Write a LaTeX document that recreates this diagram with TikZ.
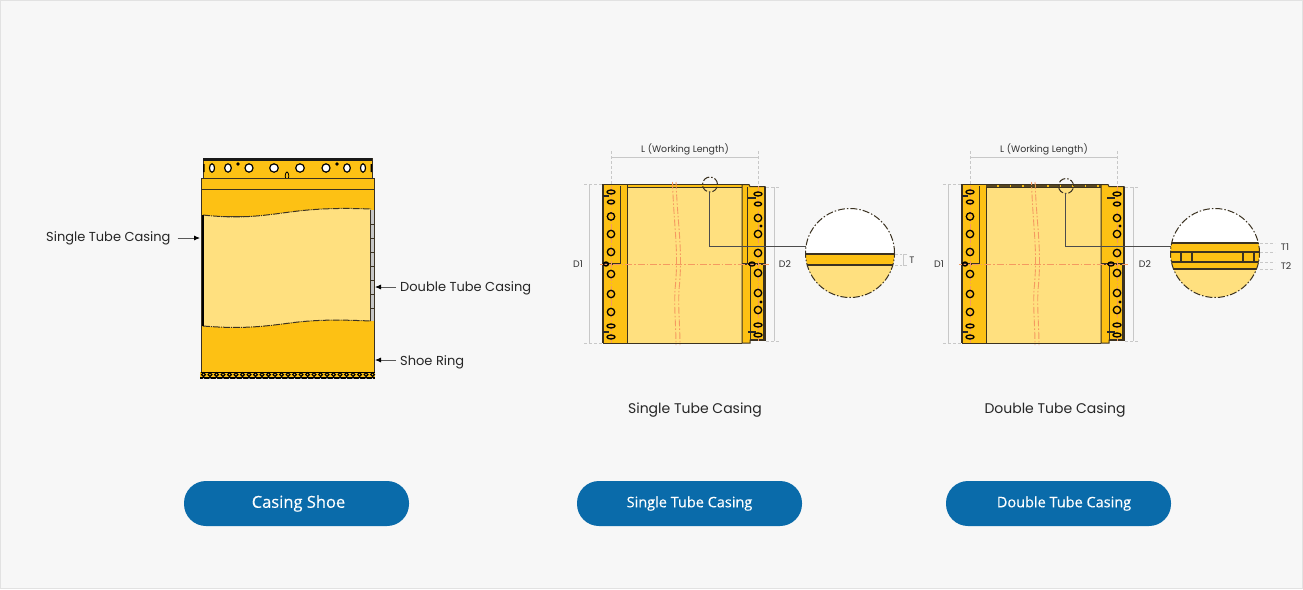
\documentclass[tikz,border=0pt]{standalone}
\usepackage{fontspec}
\setmainfont{Poppins}
\newfontfamily\btnfont[FakeBold=0.25]{Open Sans}
\usetikzlibrary{calc}
\usetikzlibrary{positioning}
\usetikzlibrary{arrows.meta}
\definecolor{pagebg}{HTML}{F7F7F7}
\definecolor{pageedge}{HTML}{E2E2E2}
\definecolor{shoedark}{HTML}{FDC114}
\definecolor{shoelight}{HTML}{FFE07F}
\definecolor{edgeline}{HTML}{3B3221}
\definecolor{btnblue}{HTML}{0A6BAA}
\definecolor{centre}{HTML}{F59A60}
\definecolor{dimline}{HTML}{C8C8C8}
\tikzset{
  lbl/.style={font=\fontsize{13}{15}\selectfont,text=black!85,inner sep=0pt},
  dimlbl/.style={font=\fontsize{9.4}{11}\selectfont,text=black!80,inner sep=0pt},
  btn/.style={rounded corners=22pt,fill=btnblue,text=white,minimum width=225pt,minimum height=45pt,inner sep=0pt,font=\btnfont\fontsize{16.5}{18}\selectfont},
  body/.style={draw=edgeline,line width=1pt},
  centreline/.style={draw=centre,line width=.9pt,dash pattern=on 7pt off 2pt on 1.5pt off 2pt},
  dimthin/.style={draw=dimline,line width=.8pt},
  dimdash/.style={draw=dimline,line width=.8pt,dash pattern=on 3pt off 2pt},
  callout/.style={draw=edgeline,line width=1pt,dash pattern=on 7pt off 2pt on 1.5pt off 2pt},
  leader/.style={draw=black!70,line width=.9pt},
  pointer/.style={draw=black!65,line width=.8pt,-{Latex[length=6pt,width=5pt,black]}},
}
\newcommand{\hole}[2]{\draw[black,line width=1.3pt] (#1,#2) circle (3.7pt);}
\newcommand{\flathole}[3]{\draw[black,line width=1.3pt] (#1,#2) ellipse (#3pt and 2pt);}
\newcommand{\lug}[3]{\fill[black!85] (#1,#2) rectangle ++(#3,2);}
% one casing drawing, shifted by the argument
\newcommand{\casingview}[1]{
\begin{scope}[xshift=#1pt]
\fill[shoelight] (627,186) rectangle (742,343);
\filldraw[body,fill=shoedark] (627,184) rectangle (742,187);
\filldraw[body,fill=shoedark] (603,184) -- (627,184) -- (627,343) -- (603,343) -- cycle;
\filldraw[body,fill=shoedark] (742,343) -- (742,184.5) -- (749,184.5) -- (750,186.5) -- (765,186.5) -- (765,340) -- (750,340) -- (750,343) -- cycle;
\draw[edgeline,line width=1pt] (627,343) -- (742,343);
\draw[edgeline,line width=1.6pt] (603,184) -- (603,343) (765,186.5) -- (765,340) -- (750,340);
\draw[body] (620,186) -- (620,264) (750,264) -- (750,340) (763,264) -- (763,340);
\draw[edgeline,line width=1.3pt] (603,264) -- (620,264) (742,264) -- (765,264);
% centre lines of the strips
\draw[centreline] (600,264) -- (769,264);
\draw[centreline] (611,186) -- (611,343) (758,186) -- (758,341);
% left holes
\foreach \yy in {216.5,234,252,274,294,312} {\hole{611}{\yy}}
\flathole{611}{192}{4} \flathole{611}{202}{3.6} \flathole{611}{326}{4} \flathole{611}{337}{4}
% right holes
\foreach \yy in {218,234,253,273,293,310} {\hole{758}{\yy}}
\flathole{758}{194}{4} \flathole{758}{204}{3.6} \flathole{758}{325}{4} \flathole{758}{335}{4}
\fill[black] (761,226) circle (1.7pt) (761,302) circle (1.7pt);
\flathole{606}{264}{2.5} \flathole{752}{264}{3}
\lug{603}{195}{6} \lug{603}{331}{6} \lug{748}{197}{8} \lug{748}{331}{8}
% break lines
\draw[centreline] (672.5,182) .. controls (674,230) and (679,250) .. (675,290) .. controls (674,310) and (676,325) .. (676,345);
\draw[centreline] (676,182) .. controls (678,230) and (683,250) .. (679,290) .. controls (678,310) and (680,325) .. (680,345);
\end{scope}}
\begin{document}
\begin{tikzpicture}[x=1pt,y=-1pt]
\useasboundingbox (0,0) rectangle (1303,589);
\filldraw[fill=pagebg,draw=pageedge,line width=1pt] (.5,.5) rectangle (1302.5,588.5);
% casing shoe: top band and collar
\filldraw[body,fill=shoedark] (203,158) rectangle (372,178);
\fill[black!90] (203,158) rectangle (372,161);
\foreach \xx/\rr in {212/2.5,228/3.3,249/4,274/4.3,300/4.3,326/4,347/3.3,363/2.5} {\filldraw[fill=white,draw=black,line width=1.2pt] (\xx,168) ellipse (\rr pt and 4.2pt);}
\fill[black] (203,164) rectangle (204.5,172) (370.5,164) rectangle (372,172);
\fill[black] (238,164) circle (1.8pt) (337,164) circle (1.8pt);
\filldraw[fill=shoedark,draw=black,line width=.8pt] (287,176) ellipse (1.8pt and 4pt);
\filldraw[body,fill=shoedark] (201,178) rectangle (374,189);
% casing shoe: tube and shoe ring
\filldraw[body,fill=shoedark] (201,189) rectangle (374,216);
\fill[shoelight] (203,215) .. controls (240,219) and (260,216) .. (290,212) .. controls (320,208) and (345,208) .. (371,209) -- (371,322) .. controls (345,320) and (320,319) .. (290,323) .. controls (260,327) and (240,329) .. (203,326) -- cycle;
\fill[shoedark] (201,326) .. controls (240,329) and (260,327) .. (290,323) .. controls (320,319) and (345,320) .. (374,321) -- (374,372) -- (201,372) -- cycle;
\draw[edgeline,line width=1pt,dash pattern=on 7pt off 1pt on 1pt off 1pt] (203,215) .. controls (240,219) and (260,216) .. (290,212) .. controls (320,208) and (345,208) .. (371,209);
\draw[edgeline,line width=1pt,dash pattern=on 7pt off 1pt on 1pt off 1pt] (203,326) .. controls (240,329) and (260,327) .. (290,323) .. controls (320,319) and (345,320) .. (371,321);
\fill[black] (201,215) rectangle (204,326);
\draw[edgeline,line width=1pt] (201,189) -- (201,372) (374,189) -- (374,372);
\fill[black!22] (370.5,210) rectangle (374,321);
\draw[edgeline,line width=.9pt] (370.5,210) -- (370.5,321) (374,210) -- (374,321);
\foreach \yy in {224,238,252,266,280,294,308} {\draw[edgeline,line width=.8pt] (370.5,\yy) -- (374,\yy);}
% teeth of the shoe ring
\fill[shoedark] (200,372) rectangle (375,378);
\foreach \xx in {0,...,26} {\draw[black,line width=1.2pt] ({203.5+6.5*\xx},374.5) circle (1.9pt);}
\fill[black] (200,377) rectangle (375,379);
\foreach \xx in {0,...,26} {\fill[pagebg] ({203.5+6.5*\xx},378) -- ++(1.3,1.5) -- ++(-2.6,0) -- cycle;}
\draw[black,line width=1pt] (200.5,372) -- (374.5,372);
% labels of the casing shoe
\node[lbl,anchor=west] (singlelbl) at (46,238) {Single Tube Casing};
\node[lbl,anchor=west] (doublelbl) at (400,288) {Double Tube Casing};
\node[lbl,anchor=west] (ringlbl) at (400,362) {Shoe Ring};
\coordinate (singletip) at (200,238);
\coordinate (doubletip) at (375,287);
\coordinate (ringtip) at (375,360);
\draw[pointer] ($(singlelbl.east)+(7,0)$) -- (singletip);
\draw[pointer] ($(doublelbl.west)+(-4,-1)$) -- (doubletip);
\draw[pointer] ($(ringlbl.west)+(-4,-2)$) -- (ringtip);
% single tube casing
\casingview{0}
\draw[edgeline,line width=1pt] (747,187) -- (747,264);
\draw[callout] (710,184.5) circle (7.5pt);
\draw[dimdash] (611,151) -- (611,184) (758,151) -- (758,186);
\node[dimlbl] (lenA) at (685,149) {L (Working Length)};
\coordinate (lenAa) at (611,157.5);
\coordinate (lenAb) at (758,157.5);
\draw[dimthin] (lenAa) -- (lenAb);
\draw[dimdash] (584,184) -- (603,184) (584,343) -- (603,343) (766,187) -- (780,187) (766,341) -- (780,341);
\draw[dimthin] (589.5,184) -- (589.5,343) (774,187) -- (774,341);
\node[dimlbl] (daA) at (578,264) {D1};
\node[dimlbl] (dbA) at (785,264) {D2};
% detail of the wall
\begin{scope}
\clip (850,253) circle (44.5pt);
\fill[white] (805,208) rectangle (895,254);
\fill[shoelight] (805,265) rectangle (895,298);
\filldraw[draw=edgeline,line width=1.2pt,fill=shoedark] (800,254) rectangle (900,265);
\end{scope}
\coordinate (bendA) at (709,246);
\coordinate (detailA) at (805.5,246);
\draw[leader] (709,192) -- (bendA) -- (detailA);
\draw[callout] (850,253) circle (44.5pt);
\draw[dimdash] (895,254) -- (902,254) (895,265) -- (902,265);
\draw[dimthin] (907,254) -- (903,254) -- (903,265) -- (907,265);
\node[dimlbl] (thA) at (912,260) {T};
% double tube casing
\casingview{359}
\draw[edgeline!85!shoedark,line width=2pt,dash pattern=on 11pt off 1.5pt] (986,186) -- (1101,186);
\draw[callout] (1066,186) circle (7.5pt);
\draw[dimdash] (970,151) -- (970,184) (1117,151) -- (1117,186);
\node[dimlbl] (lenB) at (1044,149) {L (Working Length)};
\coordinate (lenBa) at (970,157.5);
\coordinate (lenBb) at (1117,157.5);
\draw[dimthin] (lenBa) -- (lenBb);
\draw[dimdash] (943,184) -- (962,184) (943,343) -- (962,343) (1125,187) -- (1139,187) (1125,341) -- (1139,341);
\draw[dimthin] (948.5,184) -- (948.5,343) (1133,187) -- (1133,341);
\node[dimlbl] (daB) at (939,264) {D1};
\node[dimlbl] (dbB) at (1145,264) {D2};
% detail of the double wall
\begin{scope}
\clip (1215,253) circle (44.5pt);
\fill[white] (1170,208) rectangle (1260,243);
\fill[shoelight] (1170,269) rectangle (1260,298);
\filldraw[draw=edgeline,line width=1.2pt,fill=shoedark] (1165,243) rectangle (1265,252);
\filldraw[draw=edgeline,line width=1.2pt,fill=shoedark] (1165,252) rectangle (1265,262);
\filldraw[draw=edgeline,line width=1.2pt,fill=shoedark] (1165,262) rectangle (1265,269);
\foreach \xx in {1181,1192,1243,1254} {\draw[edgeline,line width=1.2pt] (\xx,252) -- (\xx,262);}
\end{scope}
\coordinate (bendB) at (1065,246);
\coordinate (detailB) at (1171,246);
\draw[leader] (1065,193) -- (bendB) -- (detailB);
\draw[callout] (1215,253) circle (44.5pt);
\draw[dimdash] (1260,243) -- (1268,243) (1260,252) -- (1268,252) (1260,262) -- (1268,262) (1260,269) -- (1268,269);
\draw[dimdash] (1270,243) -- (1275,243) (1270,252) -- (1275,252) (1270,262) -- (1275,262) (1270,269) -- (1275,269);
\node[dimlbl] (thB) at (1285,247) {T1};
\node[dimlbl] (thC) at (1286,266) {T2};
% captions
\node[lbl,font=\fontsize{14}{16}\selectfont] (capA) at (695,410) {Single Tube Casing};
\node[lbl,font=\fontsize{14}{16}\selectfont] (capB) at (1055,410) {Double Tube Casing};
% buttons
\node[btn] (btnA) at (296.5,503.5) {\hspace{4pt}\raisebox{-1pt}{Casing Shoe}};
\node[btn,font=\btnfont\fontsize{14.5}{18}\selectfont] (btnB) at (689.5,503.5) {\raisebox{-1pt}{Single Tube Casing}};
\node[btn,font=\btnfont\fontsize{14.5}{18}\selectfont] (btnC) at (1058.5,503.5) {\hspace{11pt}\raisebox{-1pt}{Double Tube Casing}};
\end{tikzpicture}
\end{document}
